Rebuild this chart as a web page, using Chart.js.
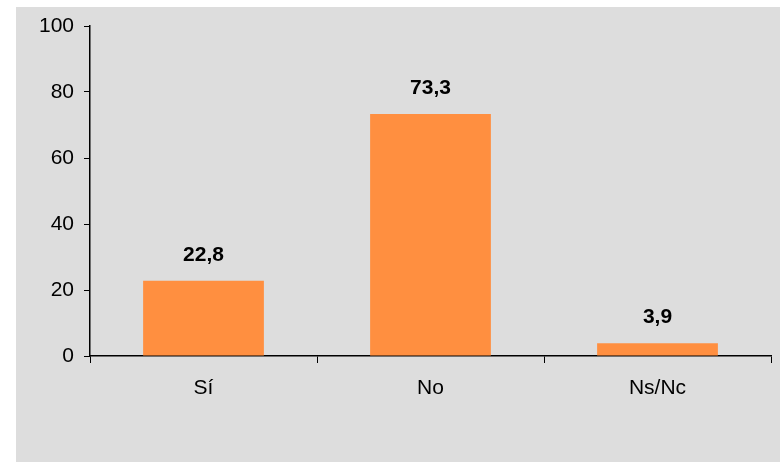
<!DOCTYPE html>
<html>
<head>
<meta charset="utf-8">
<script src="https://cdn.jsdelivr.net/npm/chart.js@4/dist/chart.umd.min.js"></script>
<style>
  html, body { margin: 0; padding: 0; background: #fff; }
  #wrap { position: relative; width: 780px; height: 462px; }
</style>
</head>
<body>
<div id="wrap"><canvas id="chart" width="780" height="462"></canvas></div>
<script>
const categories = ["Sí", "No", "Ns/Nc"];
const values = [22.8, 73.3, 3.9];
const valueLabels = ["22,8", "73,3", "3,9"];
const yTicks = [0, 20, 40, 60, 80, 100];

const FONT = "'Liberation Sans', Arial, sans-serif";

// grey panel behind the plot, leaves a white strip top/left
const panelPlugin = {
  id: "panel",
  beforeDraw(chart) {
    const { ctx } = chart;
    ctx.save();
    ctx.fillStyle = "#dddddd";
    ctx.fillRect(16, 7, chart.width - 16, chart.height - 7);
    ctx.restore();
  }
};

// bold value labels above bars
const valueLabelPlugin = {
  id: "valueLabels",
  afterDatasetsDraw(chart) {
    const { ctx } = chart;
    const meta = chart.getDatasetMeta(0);
    ctx.save();
    ctx.fillStyle = "#000";
    ctx.font = "bold 21px " + FONT;
    ctx.textAlign = "center";
    ctx.textBaseline = "middle";
    meta.data.forEach((bar, i) => {
      ctx.fillText(valueLabels[i], bar.x, bar.y - 26);
    });
    ctx.restore();
  }
};

new Chart(document.getElementById("chart").getContext("2d"), {
  type: "bar",
  data: {
    labels: categories,
    datasets: [{
      data: values,
      backgroundColor: "#ff8f40",
      borderWidth: 0,
      categoryPercentage: 1.0,
      barPercentage: 0.532
    }]
  },
  options: {
    responsive: false,
    animation: false,
    events: [],
    layout: { padding: { top: 26, right: 9, left: 0, bottom: 0 } },
    plugins: { legend: { display: false }, tooltip: { enabled: false } },
    scales: {
      x: {
        grid: { display: true, drawOnChartArea: false, drawTicks: true, tickLength: 7, color: "#000", offset: true },
        border: { display: true, color: "#000", width: 1.5 },
        ticks: { color: "#000", font: { family: FONT, size: 21 }, padding: 13 },
        afterFit(scale) { scale.height = 106; }
      },
      y: {
        min: 0, max: 100,
        afterBuildTicks(scale) { scale.ticks = yTicks.map(v => ({ value: v })); },
        grid: { display: true, drawOnChartArea: false, drawTicks: true, tickLength: 6, color: "#000" },
        border: { display: true, color: "#000", width: 1.5 },
        ticks: { color: "#000", font: { family: FONT, size: 21 }, padding: 10 },
        afterFit(scale) { scale.width = 90; }
      }
    }
  },
  plugins: [panelPlugin, valueLabelPlugin]
});
</script>
</body>
</html>
